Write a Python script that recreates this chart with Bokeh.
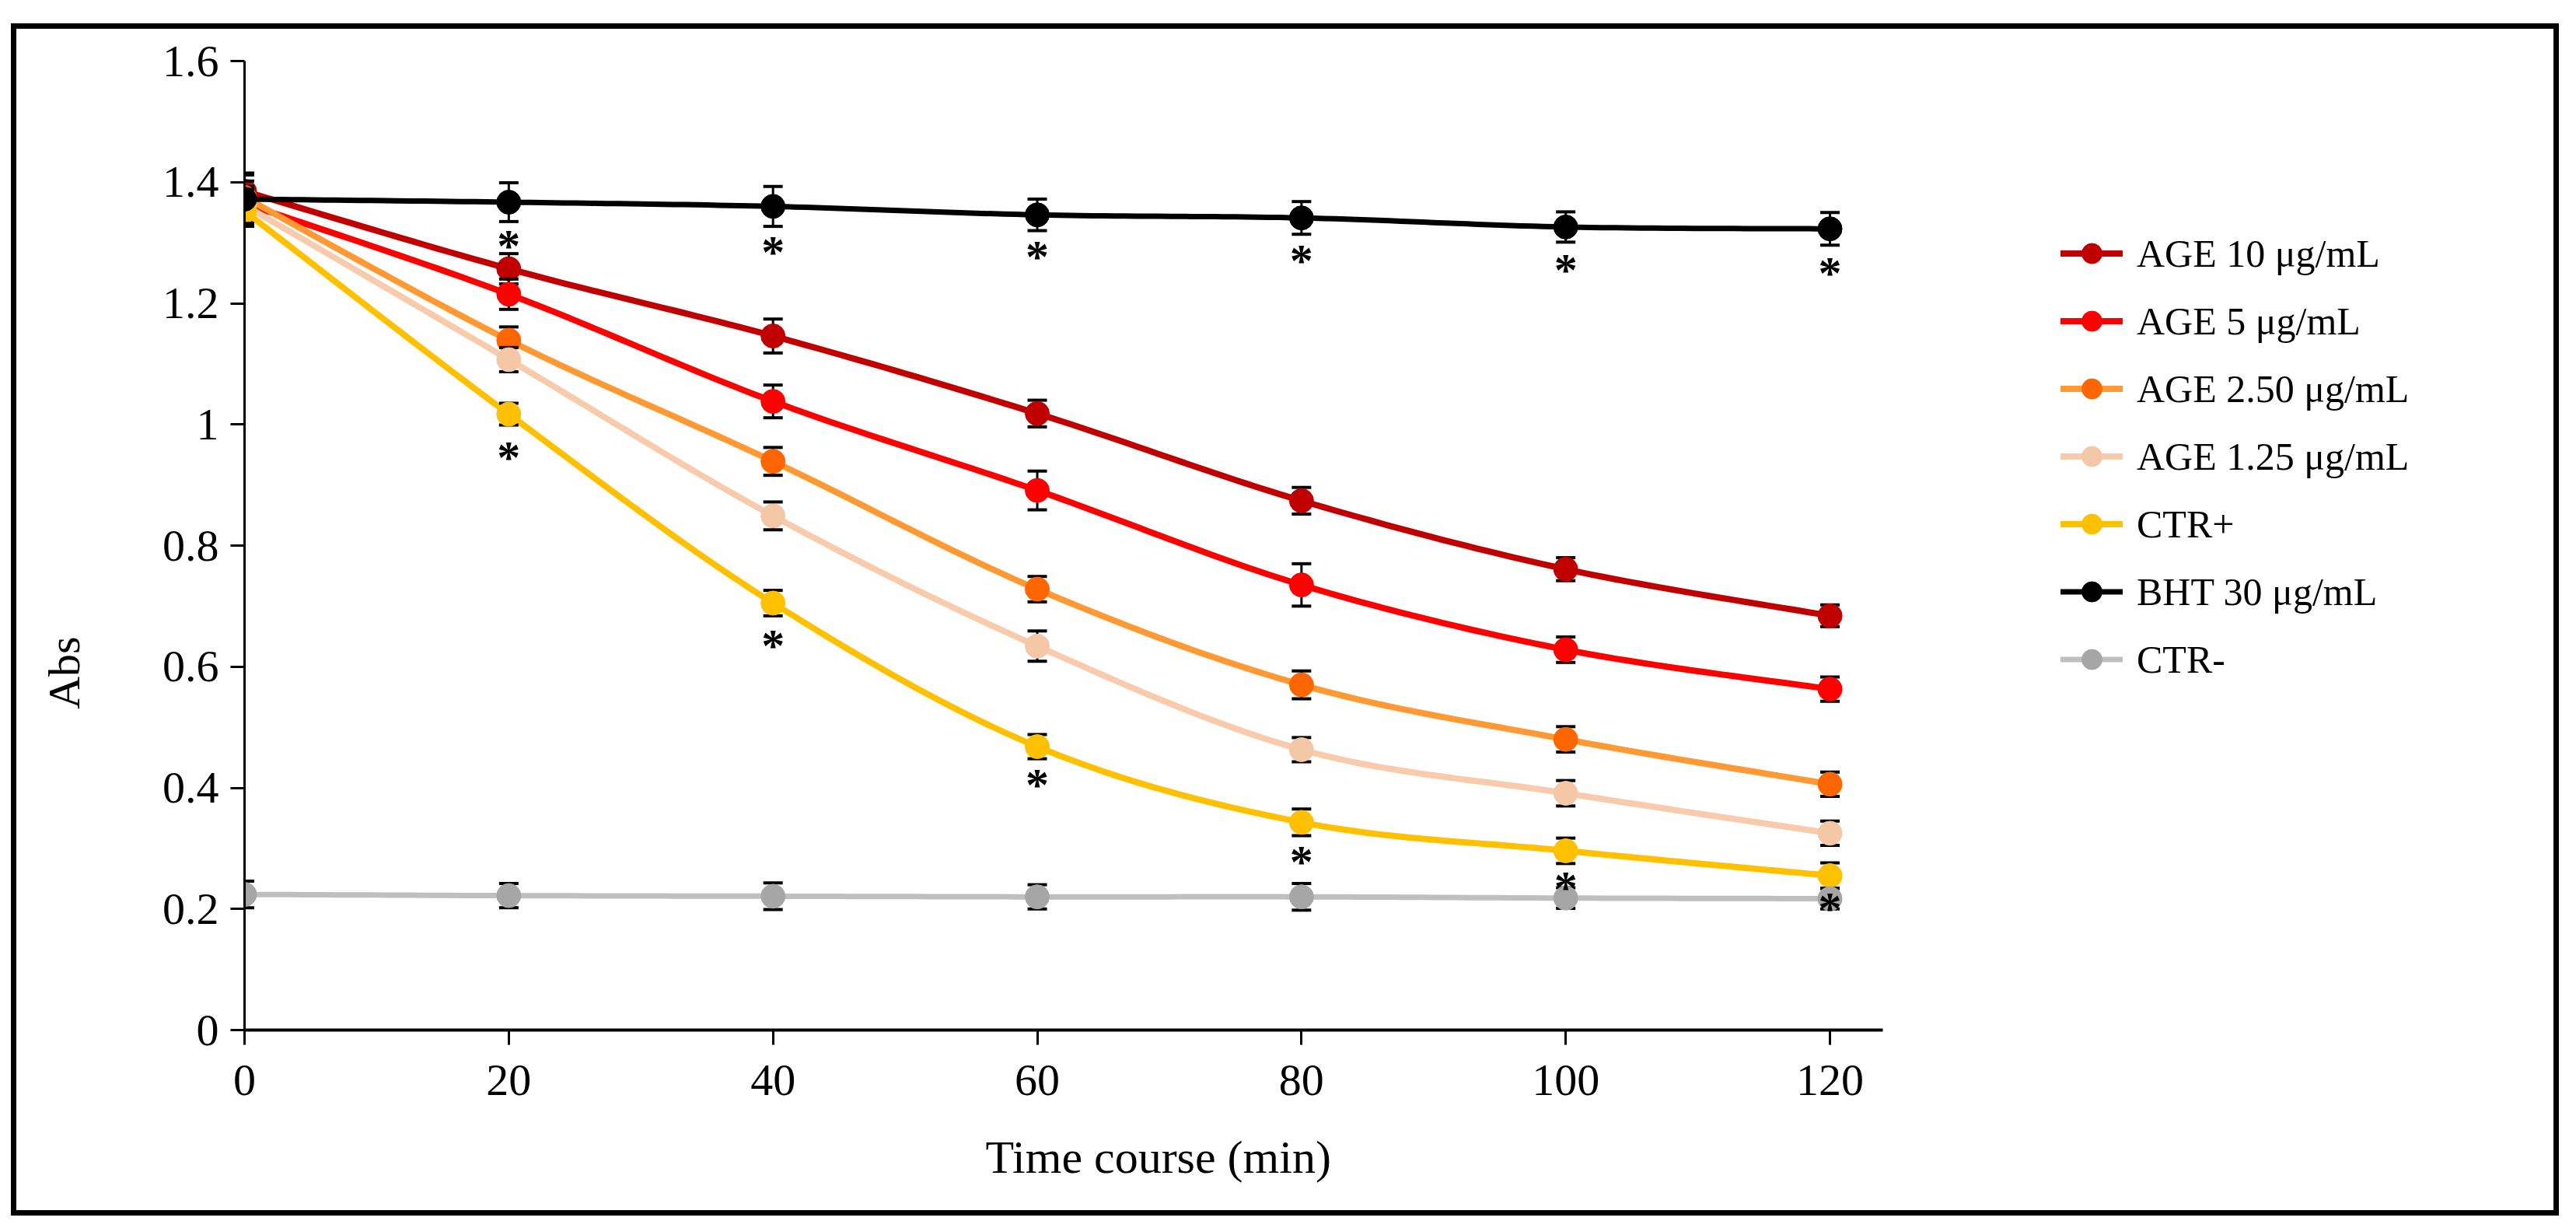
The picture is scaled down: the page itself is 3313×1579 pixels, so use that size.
import math
import numpy as np
from bokeh.plotting import figure
from bokeh.models import (ColumnDataSource, FixedTicker, Legend, LegendItem,
                          Title, Label, Range1d)
from bokeh.core.properties import value
from bokeh.embed import file_html
from bokeh.resources import INLINE

# ---------------- data ----------------
time_min = [0, 20, 40, 60, 80, 100, 120]
x_ticks = [0, 20, 40, 60, 80, 100, 120]
y_ticks = [0, 0.2, 0.4, 0.6, 0.8, 1.0, 1.2, 1.4, 1.6]
y_tick_labels = ["0", "0.2", "0.4", "0.6", "0.8", "1", "1.2", "1.4", "1.6"]

series_names = ["AGE 10 μg/mL", "AGE 5 μg/mL", "AGE 2.50 μg/mL", "AGE 1.25 μg/mL",
                "CTR+", "BHT 30 μg/mL", "CTR-"]

age10 = [1.385, 1.257, 1.146, 1.018, 0.874, 0.761, 0.684]
age10_err = [0.030, 0.025, 0.028, 0.022, 0.022, 0.019, 0.018]
age5 = [1.365, 1.215, 1.038, 0.891, 0.735, 0.628, 0.563]
age5_err = [0.028, 0.025, 0.027, 0.032, 0.035, 0.021, 0.020]
age250 = [1.375, 1.139, 0.939, 0.728, 0.570, 0.480, 0.406]
age250_err = [0.027, 0.022, 0.023, 0.021, 0.023, 0.021, 0.020]
age125 = [1.362, 1.107, 0.849, 0.634, 0.463, 0.391, 0.325]
age125_err = [0.026, 0.020, 0.023, 0.025, 0.020, 0.021, 0.020]
ctr_pos = [1.352, 1.017, 0.705, 0.468, 0.343, 0.296, 0.255]
ctr_pos_err = [0.025, 0.018, 0.021, 0.020, 0.022, 0.021, 0.021]
bht = [1.372, 1.367, 1.360, 1.346, 1.341, 1.326, 1.323]
bht_err = [0.040, 0.032, 0.033, 0.026, 0.027, 0.025, 0.027]
ctr_neg = [0.224, 0.222, 0.221, 0.220, 0.220, 0.218, 0.217]
ctr_neg_err = [0.022, 0.020, 0.022, 0.020, 0.022, 0.017, 0.017]

# significance marks (*)
star_time = [20, 40, 60, 80, 100, 120, 20, 40, 60, 80, 100, 120]
star_abs = [1.311, 1.300, 1.292, 1.286, 1.270, 1.265,
            0.961, 0.650, 0.421, 0.293, 0.251, 0.216]

# ---------------- styles ----------------
line_colors = ["#C00000", "#FF0000", "#FF9933", "#F8CBAD", "#FFC000", "#000000", "#BFBFBF"]
marker_colors = ["#C00000", "#FF0000", "#FF6600", "#F4C7A6", "#FFC000", "#000000", "#A6A6A6"]
line_widths = [8, 8, 8, 8, 8, 7, 7]
FONT = "Liberation Serif"

all_values = [age10, age5, age250, age125, ctr_pos, bht, ctr_neg]
all_errors = [age10_err, age5_err, age250_err, age125_err, ctr_pos_err, bht_err, ctr_neg_err]


def smooth_path(xs, ys, n=24):
    """Smoothed (Catmull-Rom / Bezier) path through the measured points, as Excel draws it."""
    xs = np.asarray(xs, float)
    ys = np.asarray(ys, float)
    px, py = [], []
    m = len(xs)
    for i in range(m - 1):
        i0, i3 = max(i - 1, 0), min(i + 2, m - 1)
        p0 = np.array([xs[i], ys[i]])
        p3 = np.array([xs[i + 1], ys[i + 1]])
        c1 = p0 + (p3 - np.array([xs[i0], ys[i0]])) / 6.0
        c2 = p3 - (np.array([xs[i3], ys[i3]]) - p0) / 6.0
        t = np.linspace(0, 1, n, endpoint=(i == m - 2))
        b = ((1 - t) ** 3)[:, None] * p0 + (3 * (1 - t) ** 2 * t)[:, None] * c1 \
            + (3 * (1 - t) * t ** 2)[:, None] * c2 + (t ** 3)[:, None] * p3
        px.extend(b[:, 0]); py.extend(b[:, 1])
    return px, py


W, H = 3297, 1563
p = figure(width=W, height=H, output_backend="svg", toolbar_location=None,
           x_range=Range1d(0, 124), y_range=Range1d(0, 1.6),
           min_border_left=314, min_border_right=876, min_border_top=78,
           min_border_bottom=233)
p.outline_line_color = None
p.xgrid.grid_line_color = None
p.ygrid.grid_line_color = None
# transparent canvas so the page-level frame line shows through
p.background_fill_color = None
p.border_fill_color = None
p.styles = {
    "background-color": "white",
    "box-shadow": ("inset 14px 30px 0 0 white, inset -6px 0px 0 0 white, "
                   "inset 21px 37px 0 0 black, inset -13px -7px 0 0 black"),
}

# axes
p.xaxis.ticker = FixedTicker(ticks=x_ticks)
p.yaxis.ticker = FixedTicker(ticks=y_ticks)
p.yaxis.major_label_overrides = {t: l for t, l in zip(y_ticks, y_tick_labels)}
for ax in (p.xaxis[0], p.yaxis[0]):
    ax.axis_line_color = "black"
    ax.major_tick_line_color = "black"
    ax.major_tick_line_width = 3
    ax.minor_tick_line_color = None
    ax.major_tick_in = 0
    ax.major_label_text_font = FONT
    ax.major_label_text_font_size = "58px"
    ax.major_label_text_color = "black"
p.xaxis.axis_line_width = 4
p.yaxis.axis_line_width = 3
p.xaxis.major_tick_out = 19
p.yaxis.major_tick_out = 18
p.xaxis.major_label_standoff = 26
p.yaxis.major_label_standoff = 15

legend_items = []
for name, vals, errs, lc, mc, lw in zip(series_names, all_values, all_errors,
                                        line_colors, marker_colors, line_widths):
    sx, sy = smooth_path(time_min, vals)
    lr = p.line(sx, sy, line_color=lc, line_width=lw, line_join="round", line_cap="round")
    lo = [v - e for v, e in zip(vals, errs)]
    hi = [v + e for v, e in zip(vals, errs)]
    src = ColumnDataSource(dict(x=time_min, y=vals, lo=lo, hi=hi))
    p.segment(x0="x", y0="lo", x1="x", y1="hi", source=src, line_color="black", line_width=3)
    p.scatter(x="x", y="lo", source=src, marker="dash", size=25, line_color="black", line_width=4)
    p.scatter(x="x", y="hi", source=src, marker="dash", size=25, line_color="black", line_width=4)
    mr = p.scatter(x="x", y="y", source=src, marker="circle", size=31,
                   fill_color=mc, line_color=mc, line_width=1)
    legend_items.append(LegendItem(label=name, renderers=[lr, mr]))

# significance stars
p.text(x=star_time, y=star_abs, text=["*"] * len(star_time), text_font=value(FONT),
       text_font_style="bold", text_font_size="60px", text_align="center",
       text_baseline="middle", y_offset=12, text_color="black")

legend = Legend(items=legend_items, location=(229, 444), orientation="vertical",
                glyph_width=80, glyph_height=65, label_height=65, spacing=22,
                padding=0, margin=0, label_standoff=18,
                label_text_font=FONT, label_text_font_size="50px",
                label_text_color="black",
                label_text_baseline="middle", border_line_alpha=0,
                background_fill_alpha=0)
p.add_layout(legend, "right")

# axis titles
p.add_layout(Title(text="Time course (min)", align="left", offset=953, standoff=85,
                   text_font=FONT, text_font_size="60px", text_font_style="normal",
                   text_color="black"), "below")
p.add_layout(Label(x=-13.63, y=0.59, x_units="data", y_units="data",
                   text="Abs", text_font=FONT, text_font_size="58px", angle=math.pi / 2,
                   text_align="center", text_baseline="middle", text_color="black"), "left")

open("out.html", "w").write(file_html(p, INLINE))
